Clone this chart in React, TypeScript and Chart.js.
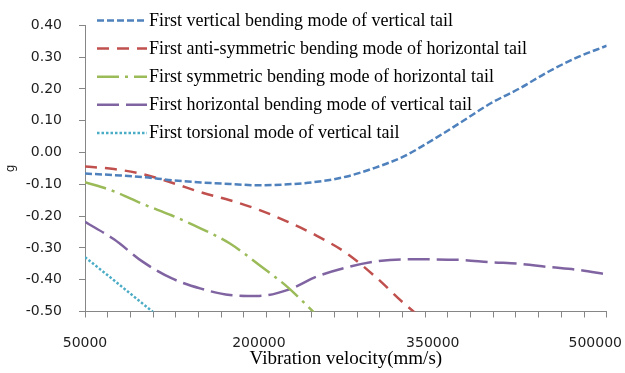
import { useEffect, useRef } from 'react';
import { Chart, registerables } from 'chart.js';

Chart.register(...registerables);

// Vibration velocity samples (mm/s)
const VELOCITY = [
  50000, 75000, 100000, 125000, 150000, 175000, 200000, 225000, 250000, 275000,
  300000, 325000, 350000, 375000, 400000, 425000, 450000, 475000, 500000,
];

// Response (g) per mode
const VERTICAL_BENDING_VT = [
  -0.066, -0.071, -0.077, -0.087, -0.094, -0.099, -0.103, -0.1, -0.092, -0.076,
  -0.048, -0.012, 0.04, 0.097, 0.155, 0.202, 0.255, 0.3, 0.336,
];
const ANTISYM_BENDING_HT = [
  -0.044, -0.052, -0.068, -0.095, -0.125, -0.15, -0.18, -0.218, -0.262, -0.315,
  -0.389, -0.474, -0.55,
];
const SYM_BENDING_HT = [-0.093, -0.122, -0.162, -0.198, -0.239, -0.286, -0.353, -0.424, -0.512];
const HORIZONTAL_BENDING_VT = [
  -0.218, -0.273, -0.344, -0.396, -0.428, -0.448, -0.451, -0.432, -0.39, -0.362,
  -0.343, -0.336, -0.336, -0.338, -0.345, -0.35, -0.36, -0.369, -0.383,
];
const TORSION_VT = [-0.329, -0.402, -0.476, -0.55];

const SERIES_LABELS = [
  'First vertical bending mode of vertical tail',
  'First anti-symmetric bending mode of horizontal tail',
  'First symmetric bending mode of horizontal tail',
  'First horizontal bending mode of vertical tail',
  'First torsional mode of vertical tail',
];

const Y_TICKS = [-0.5, -0.4, -0.3, -0.2, -0.1, 0, 0.1, 0.2, 0.3, 0.4];
const X_TICK_LABELS = [50000, 200000, 350000, 500000];
const X_MIN = 50000;
const X_MAX = 500000;
const X_TICK_INTERVALS = 23;

const AXIS_COLOR = '#868686';
const TEXT_COLOR = '#1e1e1e';
const SANS = '"DejaVu Sans", sans-serif';
const SERIF = '"Liberation Serif", "Times New Roman", serif';

const toPoints = (ys: number[]) => ys.map((y, i) => ({ x: VELOCITY[i], y }));

// Legend drawn inside the plot area, top-left
const insideLegend = {
  id: 'insideLegend',
  afterDatasetsDraw(chart: any) {
    const { ctx, chartArea } = chart;
    ctx.save();
    chart.data.datasets.forEach((ds: any, i: number) => {
      const baseline = 26 + i * 28.1;
      const lineY = baseline - 5.5;
      const x0 = chartArea.left + 12;
      ctx.strokeStyle = ds.borderColor;
      ctx.lineWidth = ds.borderWidth;
      ctx.setLineDash(ds.borderDash || []);
      ctx.beginPath();
      ctx.moveTo(x0, lineY);
      ctx.lineTo(x0 + 50, lineY);
      ctx.stroke();
      ctx.setLineDash([]);
      ctx.fillStyle = '#000';
      ctx.font = `18px ${SERIF}`;
      ctx.textAlign = 'left';
      ctx.textBaseline = 'alphabetic';
      ctx.fillText(ds.label, x0 + 52, baseline);
    });
    ctx.restore();
  },
};

// Category-style labels under the x axis, kept inside the canvas at the right edge
const xTickLabels = {
  id: 'xTickLabels',
  afterDraw(chart: any) {
    const { ctx } = chart;
    const xs = chart.scales.x;
    ctx.save();
    ctx.font = `14px ${SANS}`;
    ctx.fillStyle = TEXT_COLOR;
    ctx.textAlign = 'center';
    ctx.textBaseline = 'alphabetic';
    X_TICK_LABELS.forEach((v) => {
      const text = String(v);
      const w = ctx.measureText(text).width;
      const x = Math.min(xs.getPixelForValue(v), chart.width - 3 - w / 2);
      ctx.fillText(text, x, xs.top + 35);
    });
    ctx.restore();
  },
};

export default function App() {
  const canvasRef = useRef<HTMLCanvasElement | null>(null);

  useEffect(() => {
    if (!canvasRef.current) return;
    const common = { borderWidth: 2.5, pointRadius: 0, fill: false, cubicInterpolationMode: 'monotone' as const };
    const chart = new Chart(canvasRef.current, {
      type: 'line',
      data: {
        datasets: [
          { ...common, label: SERIES_LABELS[0], data: toPoints(VERTICAL_BENDING_VT), borderColor: '#4F81BD', borderDash: [7, 3] },
          { ...common, label: SERIES_LABELS[1], data: toPoints(ANTISYM_BENDING_HT), borderColor: '#C0504D', borderDash: [12, 8] },
          { ...common, label: SERIES_LABELS[2], data: toPoints(SYM_BENDING_HT), borderColor: '#9BBB59', borderDash: [22, 6, 3, 6] },
          { ...common, label: SERIES_LABELS[3], data: toPoints(HORIZONTAL_BENDING_VT), borderColor: '#8064A2', borderDash: [22, 7] },
          { ...common, label: SERIES_LABELS[4], data: toPoints(TORSION_VT), borderColor: '#4BACC6', borderDash: [2.5, 2] },
        ],
      },
      options: {
        responsive: false,
        animation: false,
        devicePixelRatio: 1,
        layout: { padding: { left: 0, top: 13.5, right: 18.3, bottom: 0 } },
        plugins: { legend: { display: false }, tooltip: { enabled: false } },
        scales: {
          x: {
            type: 'linear',
            min: X_MIN,
            max: X_MAX,
            afterBuildTicks: (scale: any) => {
              scale.ticks = Array.from({ length: X_TICK_INTERVALS + 1 }, (_, i) => ({
                value: X_MIN + (i * (X_MAX - X_MIN)) / X_TICK_INTERVALS,
              }));
            },
            afterFit: (scale: any) => {
              scale.height = 61.5;
            },
            ticks: { display: false },
            grid: { drawOnChartArea: false, drawTicks: true, tickLength: 6, color: AXIS_COLOR },
            border: { display: true, color: AXIS_COLOR, width: 1 },
            title: {
              display: true,
              text: 'Vibration velocity(mm/s)',
              color: '#000',
              font: { family: SERIF, size: 19 },
              padding: { top: 0, bottom: 3 },
            },
          },
          y: {
            type: 'linear',
            min: -0.5,
            max: 0.4,
            afterBuildTicks: (scale: any) => {
              scale.ticks = Y_TICKS.map((value) => ({ value }));
            },
            afterFit: (scale: any) => {
              scale.width = 85;
            },
            ticks: {
              padding: 17,
              color: TEXT_COLOR,
              font: { family: SANS, size: 14 },
              callback: (v: any) => Number(v).toFixed(2),
            },
            grid: { drawOnChartArea: false, drawTicks: true, tickLength: 6, color: AXIS_COLOR },
            border: { display: true, color: AXIS_COLOR, width: 1 },
            title: {
              display: true,
              text: 'g',
              color: TEXT_COLOR,
              font: { family: SANS, size: 12 },
              padding: { top: 4, bottom: 0 },
            },
          },
        },
      },
      plugins: [insideLegend, xTickLabels],
    });
    return () => chart.destroy();
  }, []);

  return (
    <div style={{ position: 'absolute', left: 0, top: 0, width: 625, height: 373, background: '#fff' }}>
      <canvas ref={canvasRef} width={625} height={373} style={{ display: 'block' }} />
    </div>
  );
}
